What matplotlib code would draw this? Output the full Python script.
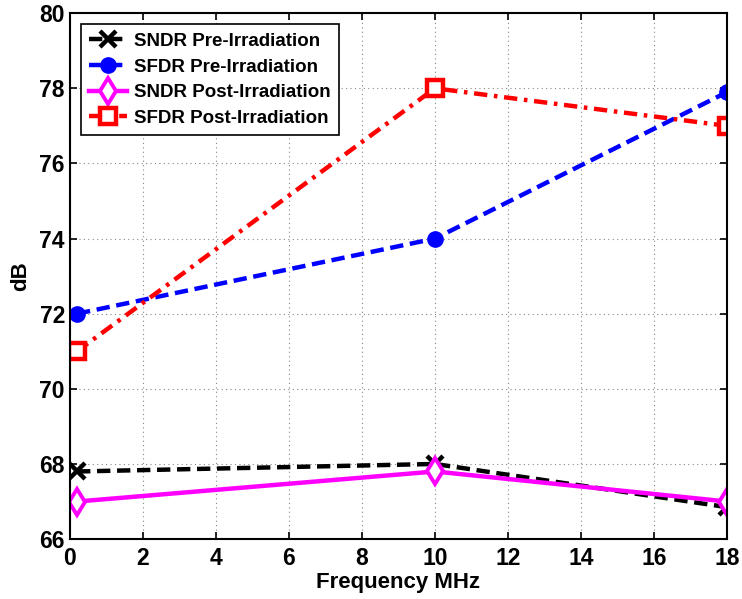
import matplotlib
matplotlib.use('Agg')
import matplotlib.pyplot as plt

freq = [0.2, 10, 18]
sndr_pre = [67.8, 68.0, 66.85]
sfdr_pre = [72.0, 74.0, 77.9]
sndr_post = [67.0, 67.8, 67.0]
sfdr_post = [71.0, 78.0, 77.0]

plt.rcParams['font.family'] = ['Liberation Sans', 'DejaVu Sans']
plt.rcParams['font.weight'] = 'bold'

fig = plt.figure(figsize=(7.42, 5.99), dpi=100)
ax = fig.add_axes([0.094, 0.100, 0.886, 0.878])

lw = 3.2
ax.plot(freq, sndr_pre, color='black', ls='--', lw=lw, marker='x', ms=12, mew=3.2,
        label='SNDR Pre-Irradiation', dashes=(3, 1.5))
ax.plot(freq, sfdr_pre, color='blue', ls='--', lw=lw, marker='o', ms=11,
        label='SFDR Pre-Irradiation', dashes=(3, 1.5))
ax.plot(freq, sndr_post, color='magenta', ls='-', lw=lw, marker='d', ms=13,
        mfc='white', mew=2.8, label='SNDR Post-Irradiation')
ax.plot(freq, sfdr_post, color='red', ls='-.', lw=lw, marker='s', ms=12,
        mfc='white', mew=3.2, label='SFDR Post-Irradiation', dashes=(3, 1.5, 0.8, 1.5))

ax.set_xlim(0, 18)
ax.set_ylim(66, 80)
ax.set_xticks(range(0, 19, 2))
ax.set_yticks(range(66, 81, 2))
ax.grid(True, ls=(0, (1, 3)), color='#888888', lw=0.8)
ax.tick_params(direction='in', top=True, right=True, labelsize=16.5, width=1.2, length=5)
ax.tick_params(axis='x', pad=6)
for lab in ax.get_xticklabels() + ax.get_yticklabels():
    lab.set_fontweight('bold')
for sp in ax.spines.values():
    sp.set_linewidth(1.5)

ax.set_xlabel('Frequency MHz', fontsize=16, fontweight='bold', labelpad=1)
ax.set_ylabel('dB', fontsize=16, fontweight='bold', labelpad=6)

leg = ax.legend(loc='upper left', fancybox=False, edgecolor='black', framealpha=1,
                prop={'weight': 'bold', 'size': 13.5}, handlelength=2.0,
                borderaxespad=0.6, labelspacing=0.45, handletextpad=0.4,
                borderpad=0.45)
leg.get_frame().set_linewidth(1.2)

fig.savefig('out.png', dpi=100)
